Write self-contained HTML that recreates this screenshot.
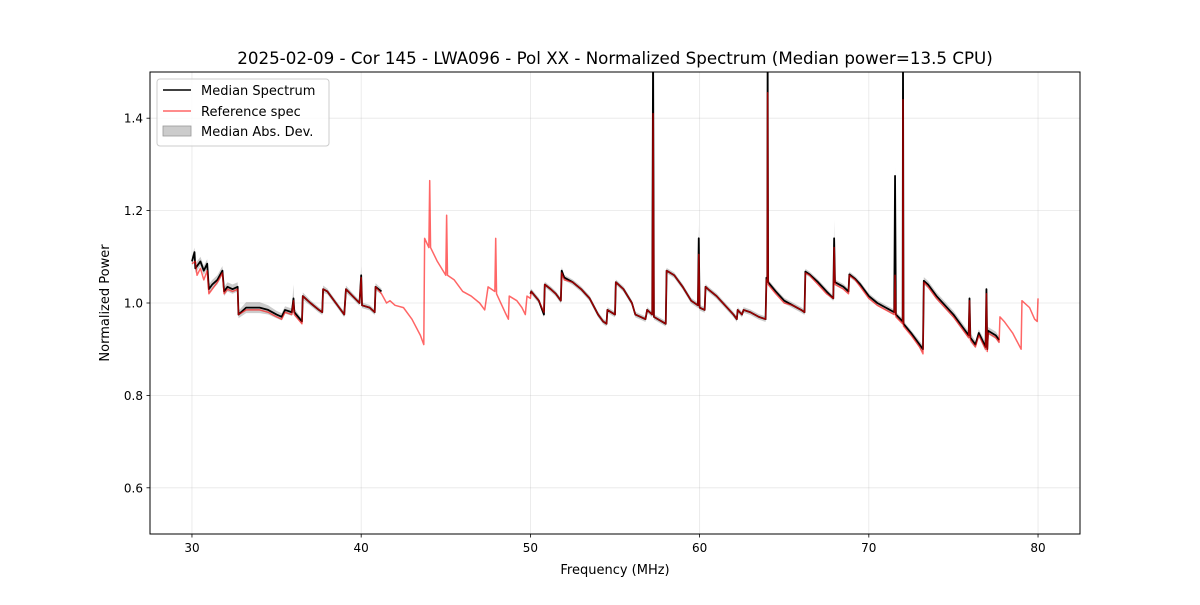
<!DOCTYPE html>
<html><head><meta charset="utf-8">
<style>
body{margin:0;background:#fff;}
svg text{font-family:"DejaVu Sans","Liberation Sans",sans-serif;fill:#000;}
</style></head>
<body>
<svg id="chart" width="1200" height="600" xmlns="http://www.w3.org/2000/svg">
<rect width="1200" height="600" fill="#fff"/>
<defs><clipPath id="clip"><rect x="150" y="72" width="930" height="462"/></clipPath></defs>
<g id="grid"></g>
<g id="series" clip-path="url(#clip)"></g>
<rect x="150" y="72" width="930" height="462" fill="none" stroke="#000" stroke-width="1"/>
<g id="ticks"></g>
<text x="615" y="64" text-anchor="middle" font-size="16.7">2025-02-09 - Cor 145 - LWA096 - Pol XX - Normalized Spectrum (Median power=13.5 CPU)</text>
<text x="615" y="574" text-anchor="middle" font-size="13">Frequency (MHz)</text>
<text x="109" y="303" text-anchor="middle" font-size="13" transform="rotate(-90 109 303)">Normalized Power</text>
<g>
<rect x="157" y="79" width="172" height="67" rx="3" fill="#fff" fill-opacity="0.8" stroke="#ccc"/>
<g><line x1="163" y1="90" x2="191" y2="90" stroke="#000" stroke-width="1.5"/><text x="201" y="95" font-size="13">Median Spectrum</text></g>
<g><line x1="163" y1="111" x2="191" y2="111" stroke="#ff0000" stroke-opacity="0.6" stroke-width="1.5"/><text x="201" y="116" font-size="13">Reference spec</text></g>
<g><rect x="163" y="126" width="28" height="10" fill="#000" fill-opacity="0.2" stroke="#999" stroke-width="0.8"/><text x="201" y="136" font-size="13">Median Abs. Dev.</text></g>
</g>
</svg>
<script>
const xTicks=[30,40,50,60,70,80];
const yTicks=[0.6,0.8,1.0,1.2,1.4];
const refFreq=[30.0,30.2,30.3,30.5,30.7,30.9,31.0,31.2,31.5,31.8,31.9,32.1,32.4,32.7,32.75,33.2,34,34.5,35,35.3,35.5,35.9,36.0,36.05,36.5,36.55,37,37.5,37.7,37.75,38,38.5,38.9,39.0,39.1,39.5,39.9,40.0,40.05,40.5,40.8,40.85,41.2,41.5,41.7,42,42.5,42.8,43,43.5,43.7,43.75,44.0,44.05,44.1,44.5,45.0,45.05,45.1,45.5,46,46.5,47,47.3,47.5,47.9,47.95,48.0,48.5,48.7,48.75,49.2,49.5,49.7,49.8,50.0,50.05,50.5,50.8,50.85,51.2,51.5,51.8,51.85,52,52.5,53,53.5,54,54.3,54.5,54.55,55.0,55.05,55.5,56,56.2,56.5,56.8,56.9,57.2,57.25,57.3,58,58.05,58.5,59,59.5,59.9,59.95,60,60.3,60.35,60.5,61,61.5,62,62.2,62.25,62.5,62.6,63,63.5,63.9,63.95,64.0,64.02,64.05,64.5,65,65.5,66,66.2,66.25,66.5,67,67.5,67.9,67.95,68.0,68.5,68.8,68.85,69.2,69.5,70,70.5,71,71.5,71.55,71.6,72.0,72.02,72.05,72.5,73.0,73.2,73.25,73.5,74,74.5,75,75.5,75.9,75.95,76.0,76.3,76.5,76.9,76.95,77.0,77.05,77.5,77.7,77.75,78,78.5,79,79.05,79.5,79.8,79.95,80.0];
const refVal=[1.085,1.09,1.06,1.075,1.05,1.07,1.02,1.03,1.045,1.065,1.02,1.03,1.025,1.03,0.975,0.985,0.985,0.98,0.97,0.965,0.98,0.975,1.005,0.975,0.955,1.015,1.0,0.985,0.98,1.03,1.025,1.0,0.98,0.975,1.03,1.015,1.0,1.055,0.995,0.99,0.98,1.035,1.02,1.0,1.005,0.995,0.99,0.975,0.965,0.93,0.91,1.14,1.12,1.265,1.12,1.09,1.06,1.19,1.06,1.05,1.025,1.015,1.0,0.985,1.035,1.025,1.14,1.02,0.98,0.965,1.015,1.005,0.99,0.975,1.015,1.01,1.025,1.005,0.98,1.04,1.03,1.02,1.005,1.065,1.05,1.045,1.03,1.01,0.975,0.96,0.955,0.985,0.975,1.045,1.03,1.0,0.975,0.97,0.965,0.985,0.975,1.41,0.97,0.955,1.07,1.06,1.035,1.005,0.995,1.105,0.99,0.985,1.035,1.03,1.015,0.995,0.975,0.965,0.985,0.975,0.985,0.98,0.97,0.965,1.05,1.045,1.455,1.04,1.02,1.0,0.995,0.985,0.98,1.065,1.06,1.04,1.02,1.01,1.12,1.04,1.03,1.02,1.06,1.05,1.035,1.01,0.995,0.985,0.975,1.06,0.97,0.955,1.44,0.95,0.93,0.905,0.89,1.045,1.035,1.01,0.99,0.97,0.945,0.925,1.005,0.92,0.905,0.93,0.9,1.02,0.895,0.935,0.925,0.915,0.97,0.96,0.935,0.9,1.005,0.99,0.965,0.96,1.01];
const medFreq=[30.0,30.15,30.2,30.3,30.5,30.7,30.9,31.0,31.2,31.5,31.8,31.9,32.1,32.4,32.7,32.75,33.2,34,34.5,35,35.3,35.5,35.9,36.0,36.05,36.5,36.55,37,37.5,37.7,37.75,38,38.5,38.9,39.0,39.1,39.5,39.9,40.0,40.05,40.5,40.8,40.85,41.2,null,50.0,50.05,50.5,50.8,50.85,51.2,51.5,51.8,51.85,52,52.5,53,53.5,54,54.3,54.5,54.55,55.0,55.05,55.5,56,56.2,56.5,56.8,56.9,57.2,57.25,57.3,58,58.05,58.5,59,59.5,59.9,59.95,60,60.3,60.35,60.5,61,61.5,62,62.2,62.25,62.5,62.6,63,63.5,63.9,63.95,64.0,64.02,64.05,64.5,65,65.5,66,66.2,66.25,66.5,67,67.5,67.9,67.95,68.0,68.5,68.8,68.85,69.2,69.5,70,70.5,71,71.5,71.55,71.6,72.0,72.02,72.05,72.5,73.0,73.2,73.25,73.5,74,74.5,75,75.5,75.9,75.95,76.0,76.3,76.5,76.9,76.95,77.0,77.05,77.5,77.7];
const medVal=[1.09,1.11,1.075,1.08,1.09,1.07,1.085,1.03,1.04,1.05,1.07,1.025,1.035,1.03,1.035,0.975,0.99,0.99,0.985,0.975,0.97,0.985,0.98,1.01,0.98,0.96,1.015,1.0,0.985,0.98,1.03,1.025,1.0,0.98,0.975,1.03,1.015,1.0,1.06,0.995,0.99,0.98,1.035,1.025,null,1.02,1.025,1.005,0.975,1.04,1.03,1.02,1.005,1.07,1.055,1.045,1.03,1.01,0.975,0.96,0.955,0.985,0.975,1.045,1.03,1.0,0.975,0.97,0.965,0.985,0.975,1.55,0.97,0.955,1.07,1.06,1.035,1.005,0.995,1.14,0.99,0.985,1.035,1.03,1.015,0.995,0.975,0.965,0.985,0.975,0.985,0.98,0.97,0.965,1.055,1.05,1.55,1.045,1.025,1.005,0.995,0.985,0.98,1.068,1.062,1.045,1.025,1.01,1.14,1.045,1.035,1.025,1.062,1.052,1.04,1.015,1.0,0.99,0.98,1.275,0.975,0.96,1.55,0.955,0.935,0.91,0.9,1.048,1.04,1.015,0.995,0.975,0.95,0.93,1.01,0.925,0.91,0.935,0.905,1.03,0.9,0.94,0.93,0.92];
const medMad=[0.01,0.01,0.01,0.01,0.01,0.01,0.01,0.01,0.01,0.01,0.01,0.01,0.01,0.01,0.01,0.008,0.012,0.012,0.01,0.008,0.008,0.008,0.008,0.03,0.008,0.006,0.008,0.006,0.006,0.006,0.008,0.006,0.006,0.006,0.006,0.008,0.006,0.006,0.02,0.006,0.006,0.006,0.008,0.006,null,0.006,0.006,0.006,0.006,0.006,0.006,0.006,0.006,0.008,0.006,0.006,0.006,0.006,0.006,0.006,0.006,0.006,0.006,0.006,0.006,0.006,0.006,0.006,0.006,0.006,0.006,0.05,0.006,0.006,0.006,0.006,0.006,0.006,0.006,0.03,0.006,0.006,0.006,0.006,0.006,0.006,0.006,0.006,0.006,0.006,0.006,0.006,0.006,0.006,0.006,0.006,0.05,0.006,0.006,0.006,0.006,0.006,0.006,0.006,0.006,0.006,0.006,0.006,0.04,0.006,0.006,0.006,0.006,0.006,0.006,0.006,0.006,0.006,0.006,0.02,0.006,0.006,0.05,0.006,0.006,0.008,0.008,0.008,0.008,0.008,0.008,0.008,0.008,0.008,0.01,0.01,0.008,0.008,0.01,0.008,0.01,0.008,0.008,0.008,0.008];

const X0=150,X1=1080,Y0=72,Y1=534,xmin=27.52,xmax=82.48,ymin=0.5,ymax=1.5;
const xs=v=>X0+(v-xmin)/(xmax-xmin)*(X1-X0);
const ys=v=>Y1-(v-ymin)/(ymax-ymin)*(Y1-Y0);
const NS='http://www.w3.org/2000/svg';
function mk(tag,attrs,parent){const e=document.createElementNS(NS,tag);for(const k in attrs)e.setAttribute(k,attrs[k]);parent.appendChild(e);return e;}
const grid=document.getElementById('grid'),ticks=document.getElementById('ticks'),series=document.getElementById('series');
xTicks.forEach(t=>{const x=xs(t);
 const g=mk('line',{x1:x,x2:x,y1:Y0,y2:Y1,stroke:'#b0b0b0','stroke-opacity':0.3,'stroke-width':0.8},grid);
 
 
 mk('line',{x1:x,x2:x,y1:Y1,y2:Y1+3.5,stroke:'#000','stroke-width':0.8},ticks);
 const tx=mk('text',{x:x,y:Y1+18,'text-anchor':'middle','font-size':12},ticks);tx.textContent=t;
 
 
});
yTicks.forEach(t=>{const y=ys(t);
 const g=mk('line',{x1:X0,x2:X1,y1:y,y2:y,stroke:'#b0b0b0','stroke-opacity':0.3,'stroke-width':0.8},grid);
 
 
 mk('line',{x1:X0-3.5,x2:X0,y1:y,y2:y,stroke:'#000','stroke-width':0.8},ticks);
 const tx=mk('text',{x:X0-7,y:y+4.5,'text-anchor':'end','font-size':12},ticks);tx.textContent=t.toFixed(1);
 
 
});
function segments(f){const segs=[];let cur=[];f.forEach((v,i)=>{if(v===null){if(cur.length)segs.push(cur);cur=[];}else cur.push(i);});if(cur.length)segs.push(cur);return segs;}
segments(medFreq).forEach(seg=>{
 let d='M'+seg.map(i=>xs(medFreq[i])+','+ys(medVal[i]+medMad[i])).join('L');
 d+='L'+seg.slice().reverse().map(i=>xs(medFreq[i])+','+ys(medVal[i]-medMad[i])).join('L')+'Z';
 const p=mk('path',{d:d,fill:'#000','fill-opacity':0.2,stroke:'none'},series);
 
 
});
segments(medFreq).forEach(seg=>{
 const d='M'+seg.map(i=>xs(medFreq[i])+','+ys(medVal[i])).join('L');
 const p=mk('path',{d:d,fill:'none',stroke:'#000','stroke-width':1.8,'stroke-linejoin':'round'},series);
 
 
});
const rd='M'+refFreq.map((f,i)=>xs(f)+','+ys(refVal[i])).join('L');
const rp=mk('path',{d:rd,fill:'none',stroke:'#ff0000','stroke-opacity':0.6,'stroke-width':1.5,'stroke-linejoin':'round'},series);


</script>
</body></html>
